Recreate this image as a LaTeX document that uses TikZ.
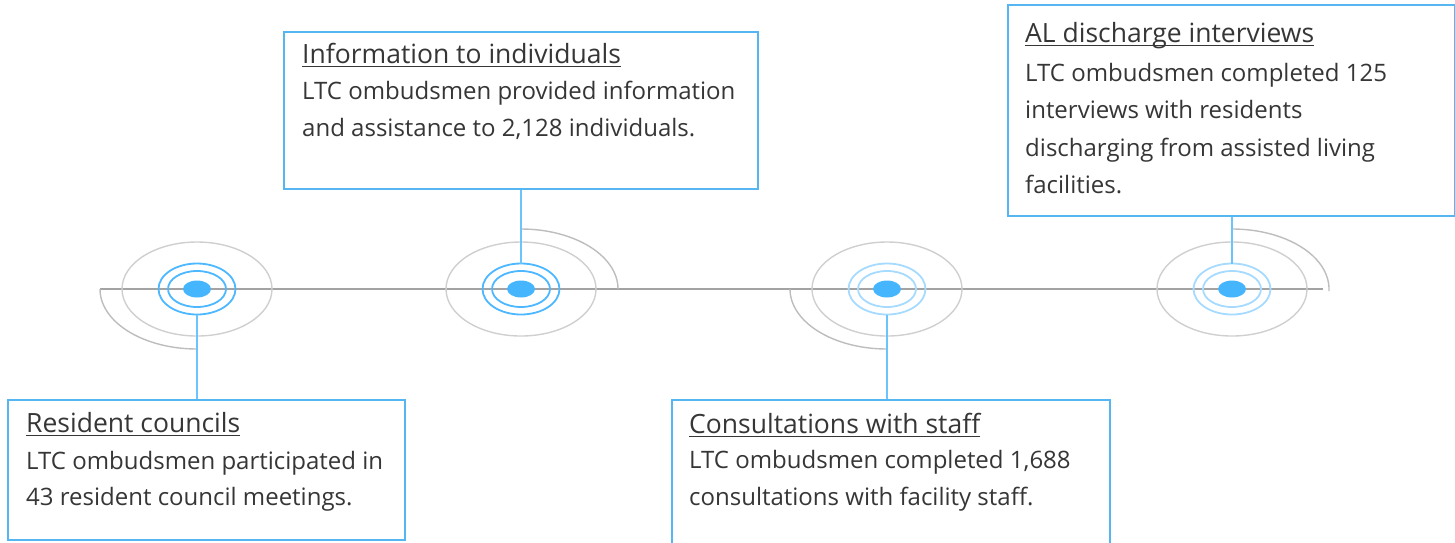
\documentclass[tikz,border=0pt]{standalone}
\usepackage{fontspec}
\setmainfont{Open Sans}
\usetikzlibrary{calc}
\definecolor{boxblue}{HTML}{55B6F2}
\definecolor{linkblue}{HTML}{6CC4FF}
\definecolor{dotblue}{HTML}{45B6FE}
\definecolor{ringstrong}{HTML}{4DB8FF}
\definecolor{ringlight}{HTML}{A6DBFF}
\definecolor{ringgray}{HTML}{CFCFCF}
\definecolor{arcgray}{HTML}{BDBDBD}
\definecolor{axisgray}{HTML}{A3A3A3}
\definecolor{textgray}{HTML}{363636}
\newcommand\ultitle[1]{\setbox0\hbox{#1}\rlap{\rule[-4pt]{\wd0}{1.5pt}}\box0}
\tikzset{
  infobox/.style={draw=boxblue, line width=1.6pt, fill=white, anchor=north west, inner sep=0pt},
  titletext/.style={anchor=base west, text=textgray, inner sep=0pt,
    font=\fontsize{26.5}{30}\selectfont},
  bodytext/.style={anchor=base west, align=left, text=textgray, inner sep=0pt,
    font=\fontsize{24}{#1}\selectfont},
  bodytext/.default=36.5,
  link/.style={draw=linkblue, line width=1.8pt},
  outerring/.style={draw=ringgray, line width=1.4pt},
  halfarc/.style={draw=arcgray, line width=1.4pt},
  dot/.style={fill=dotblue, draw=none},
}
\begin{document}
\begin{tikzpicture}[x=1pt,y=-1pt]
\useasboundingbox (0,0) rectangle (1455,542);
% timeline
\coordinate (tl) at (100,289);
\coordinate (tr) at (1323,289);
\draw[draw=axisgray, line width=1.8pt] (tl) -- (tr);
% centres
\coordinate (c1) at (197,289);
\coordinate (c2) at (521,289);
\coordinate (c3) at (887,289);
\coordinate (c4) at (1232,289);
% gray rings
\foreach \c in {c1,c2,c3,c4}{
  \draw[outerring] (\c) ellipse [x radius=75, y radius=47];
}
% partial arcs
\draw[halfarc] ($(c1)+(-97,0)$) arc [start angle=180, end angle=90, x radius=97, y radius=60];
\draw[halfarc] ($(c2)+(0,-60)$) arc [start angle=270, end angle=360, x radius=97, y radius=60];
\draw[halfarc] ($(c3)+(-97,0)$) arc [start angle=180, end angle=90, x radius=97, y radius=60];
\draw[halfarc] ($(c4)+(0,-60)$) arc [start angle=270, end angle=362, x radius=97, y radius=60];
% blue rings
\foreach \c/\col in {c1/ringstrong,c2/ringstrong,c3/ringlight,c4/ringlight}{
  \draw[draw=\col, line width=1.8pt] (\c) ellipse [x radius=38.5, y radius=25.5];
  \draw[draw=\col, line width=1.8pt] (\c) ellipse [x radius=29, y radius=18];
  \fill[dot] (\c) ellipse [x radius=14, y radius=8.5];
}
% ring anchors for connectors
\coordinate (r1) at ($(c1)+(0,25.5)$);
\coordinate (r2) at ($(c2)+(0,-25.5)$);
\coordinate (r3) at ($(c3)+(0,25.5)$);
\coordinate (r4) at ($(c4)+(0,-25.5)$);
% boxes
\node[infobox, minimum width=397, minimum height=140] (b1) at (7,399) {};
\node[infobox, minimum width=474, minimum height=157] (b2) at (283,31) {};
\node[infobox, minimum width=438, minimum height=150] (b3) at (671,399) {};
\node[infobox, minimum width=447, minimum height=211] (b4) at (1007,4) {};
% connectors
\draw[link] (r1) -- (r1 |- b1.north);
\draw[link] (r2) -- (r2 |- b2.south);
\draw[link] (r3) -- (r3 |- b3.north);
\draw[link] (r4) -- (r4 |- b4.south);
% texts
\node[titletext] (h1) at (26,432) {\ultitle{Resident councils}};
\node[bodytext] (t1) at (26,505.5) {LTC ombudsmen participated in\\43 resident council meetings.};
\node[titletext] (h2) at (302,63) {\ultitle{Information to individuals}};
\node[bodytext] (t2) at (302,136) {LTC ombudsmen provided information\\and assistance to 2,128 individuals.};
\node[titletext] (h3) at (689,433) {\ultitle{Consultations with staff}};
\node[bodytext] (t3) at (689,505) {LTC ombudsmen completed 1,688\\consultations with facility staff.};
\node[titletext] (h4) at (1025,42) {\ultitle{AL discharge interviews}};
\node[bodytext=37.5] (t4) at (1025,193.5) {LTC ombudsmen completed 125\\interviews with residents\\discharging from assisted living\\facilities.};
\end{tikzpicture}
\end{document}
